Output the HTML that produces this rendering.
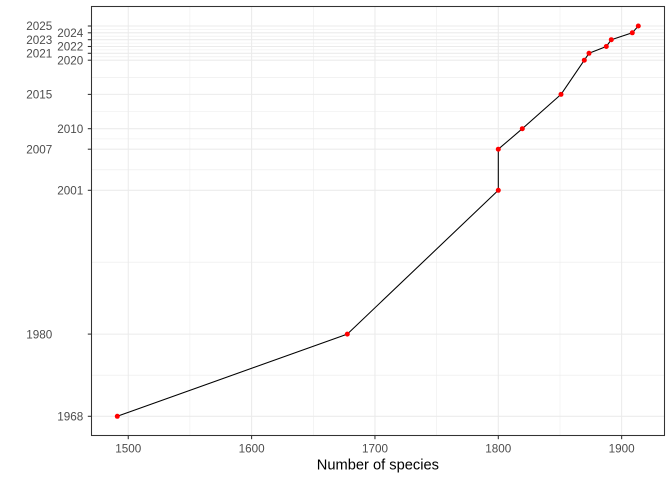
<!DOCTYPE html>
<html><head><meta charset="utf-8"><style>
html,body{margin:0;padding:0;background:#fff;}
svg{display:block;}
text{font-family:"Liberation Sans",Arial,sans-serif;}
</style></head><body>
<svg width="672" height="480" viewBox="0 0 672 480" xmlns="http://www.w3.org/2000/svg">
<rect x="0" y="0" width="672" height="480" fill="#fff"/>
<!-- minor grid -->
<g stroke="#EBEBEB" stroke-width="0.55" fill="none">
<line x1="91.5" x2="664.5" y1="375.2" y2="375.2"/>
<line x1="91.5" x2="664.5" y1="262.2" y2="262.2"/>
<line x1="91.5" x2="664.5" y1="169.8" y2="169.8"/>
<line x1="91.5" x2="664.5" y1="138.9" y2="138.9"/>
<line x1="91.5" x2="664.5" y1="111.5" y2="111.5"/>
<line x1="91.5" x2="664.5" y1="77.3" y2="77.3"/>
<line x1="91.5" x2="664.5" y1="56.8" y2="56.8"/>
<line x1="91.5" x2="664.5" y1="49.9" y2="49.9"/>
<line x1="91.5" x2="664.5" y1="43.1" y2="43.1"/>
<line x1="91.5" x2="664.5" y1="36.2" y2="36.2"/>
<line x1="91.5" x2="664.5" y1="29.4" y2="29.4"/>
<line y1="6.5" y2="435.5" x1="189.9" x2="189.9"/>
<line y1="6.5" y2="435.5" x1="313.3" x2="313.3"/>
<line y1="6.5" y2="435.5" x1="436.6" x2="436.6"/>
<line y1="6.5" y2="435.5" x1="560" x2="560"/>
</g>
<!-- major grid -->
<g stroke="#EBEBEB" stroke-width="1.07" fill="none">
<line x1="91.5" x2="664.5" y1="416.3" y2="416.3"/>
<line x1="91.5" x2="664.5" y1="334.1" y2="334.1"/>
<line x1="91.5" x2="664.5" y1="190.3" y2="190.3"/>
<line x1="91.5" x2="664.5" y1="149.2" y2="149.2"/>
<line x1="91.5" x2="664.5" y1="128.7" y2="128.7"/>
<line x1="91.5" x2="664.5" y1="94.4" y2="94.4"/>
<line x1="91.5" x2="664.5" y1="60.2" y2="60.2"/>
<line x1="91.5" x2="664.5" y1="53.3" y2="53.3"/>
<line x1="91.5" x2="664.5" y1="46.5" y2="46.5"/>
<line x1="91.5" x2="664.5" y1="39.7" y2="39.7"/>
<line x1="91.5" x2="664.5" y1="32.8" y2="32.8"/>
<line x1="91.5" x2="664.5" y1="26.0" y2="26.0"/>
<line y1="6.5" y2="435.5" x1="128.25" x2="128.25"/>
<line y1="6.5" y2="435.5" x1="251.6" x2="251.6"/>
<line y1="6.5" y2="435.5" x1="374.95" x2="374.95"/>
<line y1="6.5" y2="435.5" x1="498.3" x2="498.3"/>
<line y1="6.5" y2="435.5" x1="621.65" x2="621.65"/>
</g>
<!-- data line -->
<polyline fill="none" stroke="#000" stroke-width="1.07" stroke-linejoin="round"
points="117.3,416.3 347.3,334.1 498.3,190.3 498.3,149.2 522.3,128.7 561,94.4 584.3,60.2 589,53.3 606.3,46.5 611.3,39.7 632.3,32.8 638.3,26.0"/>
<g fill="#FF0000">
<circle cx="117.3" cy="416.3" r="2.5"/>
<circle cx="347.3" cy="334.1" r="2.5"/>
<circle cx="498.3" cy="190.3" r="2.5"/>
<circle cx="498.3" cy="149.2" r="2.5"/>
<circle cx="522.3" cy="128.7" r="2.5"/>
<circle cx="561" cy="94.4" r="2.5"/>
<circle cx="584.3" cy="60.2" r="2.5"/>
<circle cx="589" cy="53.3" r="2.5"/>
<circle cx="606.3" cy="46.5" r="2.5"/>
<circle cx="611.3" cy="39.7" r="2.5"/>
<circle cx="632.3" cy="32.8" r="2.5"/>
<circle cx="638.3" cy="26.0" r="2.5"/>
</g>
<!-- panel border -->
<rect x="91.5" y="6.5" width="573" height="429" fill="none" stroke="#333333" stroke-width="1.07"/>
<!-- ticks -->
<g stroke="#333333" stroke-width="1.07">
<line x1="87.8" x2="91.5" y1="416.3" y2="416.3"/>
<line x1="87.8" x2="91.5" y1="334.1" y2="334.1"/>
<line x1="87.8" x2="91.5" y1="190.3" y2="190.3"/>
<line x1="87.8" x2="91.5" y1="149.2" y2="149.2"/>
<line x1="87.8" x2="91.5" y1="128.7" y2="128.7"/>
<line x1="87.8" x2="91.5" y1="94.4" y2="94.4"/>
<line x1="87.8" x2="91.5" y1="60.2" y2="60.2"/>
<line x1="87.8" x2="91.5" y1="53.3" y2="53.3"/>
<line x1="87.8" x2="91.5" y1="46.5" y2="46.5"/>
<line x1="87.8" x2="91.5" y1="39.7" y2="39.7"/>
<line x1="87.8" x2="91.5" y1="32.8" y2="32.8"/>
<line x1="87.8" x2="91.5" y1="26.0" y2="26.0"/>
<line y1="435.5" y2="439.2" x1="128.25" x2="128.25"/>
<line y1="435.5" y2="439.2" x1="251.6" x2="251.6"/>
<line y1="435.5" y2="439.2" x1="374.95" x2="374.95"/>
<line y1="435.5" y2="439.2" x1="498.3" x2="498.3"/>
<line y1="435.5" y2="439.2" x1="621.65" x2="621.65"/>
</g>
<!-- y labels -->
<g fill="#4D4D4D" font-size="11.7" text-anchor="end">
<text x="83.3" y="420.5">1968</text>
<text x="52.3" y="338.3">1980</text>
<text x="83.3" y="194.5">2001</text>
<text x="52.3" y="153.4">2007</text>
<text x="83.3" y="132.9">2010</text>
<text x="52.3" y="98.6">2015</text>
<text x="83.3" y="64.4">2020</text>
<text x="52.3" y="57.5">2021</text>
<text x="83.3" y="50.7">2022</text>
<text x="52.3" y="43.9">2023</text>
<text x="83.3" y="37.0">2024</text>
<text x="52.3" y="30.2">2025</text>
</g>
<!-- x labels -->
<g fill="#4D4D4D" font-size="11.7" text-anchor="middle">
<text x="128.25" y="452.7">1500</text>
<text x="251.6" y="452.7">1600</text>
<text x="374.95" y="452.7">1700</text>
<text x="498.3" y="452.7">1800</text>
<text x="621.65" y="452.7">1900</text>
</g>
<text x="377.9" y="469.3" font-size="14.67" fill="#000" text-anchor="middle">Number of species</text>
</svg>
</body></html>
